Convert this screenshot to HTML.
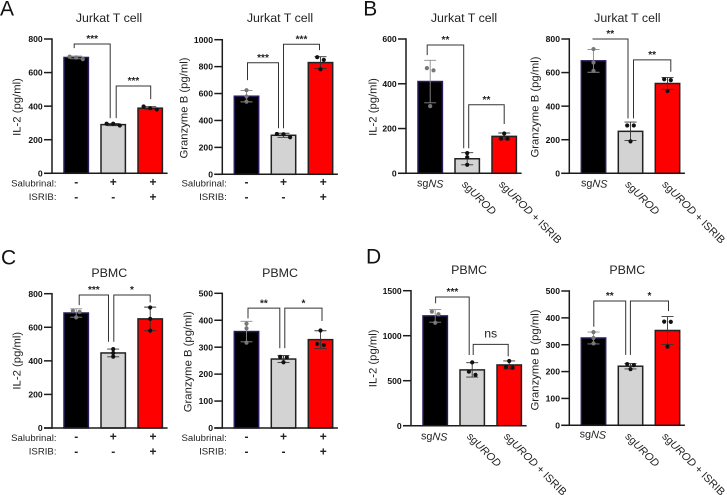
<!DOCTYPE html>
<html lang="en">
<head>
<meta charset="utf-8">
<title>IL-2 and Granzyme B bar charts</title>
<style>
html,body{margin:0;padding:0;background:#fff;}
body{width:727px;height:495px;overflow:hidden;}
svg{display:block;font-family:"Liberation Sans",Arial,sans-serif;}
</style>
</head>
<body>
<svg id="figure" width="727" height="495" viewBox="0 0 727 495" xmlns="http://www.w3.org/2000/svg"></svg>
<script>
// Shared categories
const sgCategories = ["sgNS", "sgUROD", "sgUROD + ISRIB"];
const salubrinalRow = ["-", "+", "+"];
const isribRow = ["-", "-", "+"];

// Panel A, IL-2
const a1Ticks = [0, 200, 400, 600, 800];
const a1Means = [690, 290, 388];
const a1Sd = [8, 6, 9];
const a1Points = [[680, 695, 690], [285, 295, 295], [380, 398, 388]];
const a1Brackets = [[0, 1, 770, 746, 329, "***"], [1, 2, 520, 329, 442, "***"]];
// Panel A, Granzyme B
const a2Ticks = [0, 200, 400, 600, 800, 1000];
const a2Means = [580, 290, 830];
const a2Sd = [42, 15, 44];
const a2Points = [[625, 578, 540], [300, 298, 275], [870, 850, 780]];
const a2Brackets = [[0, 1, 829, 700, 342, "***"], [1, 2, 966, 342, 923, "***"]];
// Panel B, IL-2
const b1Ticks = [0, 200, 400, 600];
const b1Means = [410, 65, 165];
const b1Sd = [95, 27, 15];
const b1Points = [[470, 460, 300], [90, 72, 38], [178, 155, 155]];
const b1Brackets = [[0, 1, 573, 528, 112, "**"], [1, 2, 306, 112, 220, "**"]];
// Panel B, Granzyme B
const b2Ticks = [0, 200, 400, 600, 800];
const b2Means = [670, 250, 535];
const b2Sd = [68, 55, 35];
const b2Points = [[740, 660, 610], [285, 285, 190], [560, 555, 490]];
const b2Brackets = [[0, 1, 800, 800, 327, "**"], [1, 2, 676, 327, 605, "**"]];
// Panel C, IL-2
const c1Ticks = [0, 200, 400, 600, 800];
const c1Means = [685, 447, 650];
const c1Sd = [25, 23, 70];
const c1Points = [[698, 692, 659], [470, 447, 425], [718, 650, 580]];
const c1Brackets = [[0, 1, 792, 732, 514, "***"], [1, 2, 792, 514, 748, "*"]];
// Panel C, Granzyme B
const c2Ticks = [0, 100, 200, 300, 400, 500];
const c2Means = [358, 256, 328];
const c2Sd = [38, 13, 33];
const c2Points = [[387, 370, 317], [264, 262, 244], [362, 312, 308]];
const c2Brackets = [[0, 1, 445, 407, 296, "**"], [1, 2, 445, 296, 397, "*"]];
// Panel D, IL-2
const d1Ticks = [0, 500, 1000, 1500];
const d1Means = [1220, 620, 675];
const d1Sd = [70, 80, 45];
const d1Points = [[1267, 1238, 1144], [704, 600, 565], [719, 652, 645]];
const d1Brackets = [[0, 1, 1430, 1360, 785, "***"], [1, 2, 904, 785, 770, "ns"]];
// Panel D, Granzyme B
const d2Ticks = [0, 100, 200, 300, 400, 500];
const d2Means = [325, 220, 353];
const d2Sd = [22, 10, 52];
const d2Points = [[347, 325, 305], [228, 224, 209], [386, 385, 293]];
const d2Brackets = [[0, 1, 463, 367, 262, "**"], [1, 2, 463, 262, 425, "*"]];

// Layout (pixels), separate from data
const panels = [
  {id:"a1",title:"Jurkat T cell",titleX:109,titleY:22,yTitle:"IL-2 (pg/ml)",yTitleX:17.3,yTitleY:107,axisX:52,y0:173.3,yTop:39,ticks:a1Ticks,means:a1Means,sd:a1Sd,points:a1Points,brackets:a1Brackets,dx:[[-2,-3],[3,0.5]],kind:"rows",rowBase:[186.7,200]},
  {id:"a2",title:"Jurkat T cell",titleX:280,titleY:22,yTitle:"Granzyme B (pg/ml)",yTitleX:184.7,yTitleY:108,axisX:222.3,y0:174.3,yTop:39.7,ticks:a2Ticks,means:a2Means,sd:a2Sd,points:a2Points,brackets:a2Brackets,dx:[[1,-5],[0,-1]],kind:"rows",rowBase:[186.7,200]},
  {id:"b1",title:"Jurkat T cell",titleX:464,titleY:22,yTitle:"IL-2 (pg/ml)",yTitleX:373.3,yTitleY:107,axisX:406,y0:173.3,yTop:39,ticks:b1Ticks,means:b1Means,sd:b1Sd,points:b1Points,brackets:b1Brackets,dx:[[-3,-3.5],[1.5,0]],kind:"sg",sgNsX:430,sgNsY:187,sgY:185},
  {id:"b2",title:"Jurkat T cell",titleX:627.3,titleY:22,yTitle:"Granzyme B (pg/ml)",yTitleX:535.7,yTitleY:107,axisX:569.3,y0:173.3,yTop:39,ticks:b2Ticks,means:b2Means,sd:b2Sd,points:b2Points,brackets:b2Brackets,dx:[[-1,-2.5],[3,3.3]],kind:"sg",sgNsX:594,sgNsY:187,sgY:185},
  {id:"c1",title:"PBMC",titleX:109.3,titleY:277,yTitle:"IL-2 (pg/ml)",yTitleX:17.3,yTitleY:360.7,axisX:52,y0:428,yTop:293.7,ticks:c1Ticks,means:c1Means,sd:c1Sd,points:c1Points,brackets:c1Brackets,dx:[[3,-4.7],[0.6,0]],kind:"rows",rowBase:[441,454.3]},
  {id:"c2",title:"PBMC",titleX:280,titleY:277,yTitle:"Granzyme B (pg/ml)",yTitleX:188.3,yTitleY:361.7,axisX:222.3,y0:428,yTop:293.3,ticks:c2Ticks,means:c2Means,sd:c2Sd,points:c2Points,brackets:c2Brackets,dx:[[1.5,-3.7],[1.3,1.5]],kind:"rows",rowBase:[441,454.3]},
  {id:"d1",title:"PBMC",titleX:469,titleY:274,yTitle:"IL-2 (pg/ml)",yTitleX:373.3,yTitleY:358.3,axisX:411,y0:425.7,yTop:290.7,ticks:d1Ticks,means:d1Means,sd:d1Sd,points:d1Points,brackets:d1Brackets,dx:[[0.4,-3],[1,-1]],kind:"sg",sgNsX:434,sgNsY:440,sgY:437},
  {id:"d2",title:"PBMC",titleX:627.3,titleY:274,yTitle:"Granzyme B (pg/ml)",yTitleX:535.7,yTitleY:360,axisX:569.3,y0:425.3,yTop:291,ticks:d2Ticks,means:d2Means,sd:d2Sd,points:d2Points,brackets:d2Brackets,dx:[[0.3,-4.8],[-0.1,1]],kind:"sg",sgNsX:592.7,sgNsY:438,sgY:437}
];
const panelLetters = [["A",0,15.7],["B",363.3,15.3],["C",1,264.3],["D",366,263.3]];

const NS = "http://www.w3.org/2000/svg";
const svg = document.getElementById("figure");
const INK = "#1c1c1c";
const BAR_W = 24.4, BAR_STEP = 37, BAR_PAD = 12;
const barFills = ["#000000", "#d3d3d3", "#ff0000"];
const barStrokes = ["#2b1a5c", "#222222", "#222222"];
const markColors = ["#777777", "#111111", "#111111"];
const errColors = ["#8a8a8a", "#333333", "#333333"];

function node(parent, tag, attrs, text) {
  const el = document.createElementNS(NS, tag);
  for (const k in attrs) el.setAttribute(k, attrs[k]);
  if (text !== undefined) el.textContent = text;
  parent.appendChild(el);
  return el;
}

function swarmOffsets(values, scale) {
  const order = values.map((v, i) => i).sort((p, q) => values[q] - values[p]);
  const offsets = values.map(() => 0);
  let cluster = [];
  const flush = () => {
    const n = cluster.length;
    if (n === 2) { offsets[cluster[0]] = -3.3; offsets[cluster[1]] = 3.3; }
    if (n >= 3) { cluster.forEach((idx, j) => { offsets[idx] = [-6.6, 0, 6.6][j % 3]; }); }
    cluster = [];
  };
  order.forEach((idx, j) => {
    if (j > 0 && Math.abs(values[order[j - 1]] - values[idx]) * scale >= 3.4) flush();
    cluster.push(idx);
  });
  flush();
  return offsets;
}

panelLetters.forEach(l => {
  const t = node(svg, "text", {x:l[1], y:l[2], "font-size":21, fill:"#111"}, l[0]);
  
  
});

panels.forEach(p => {
  const g = node(svg, "g", {});
  
  

  const maxTick = p.ticks[p.ticks.length - 1];
  const scale = (p.y0 - p.yTop) / maxTick;
  const y = v => p.y0 - v * scale;
  const barLeft = i => p.axisX + BAR_PAD + i * BAR_STEP;
  const barCenter = i => barLeft(i) + BAR_W / 2;

  const title = node(g, "text", {x:p.titleX, y:p.titleY, "font-size":12.4, "text-anchor":"middle", fill:"#222"}, p.title);
  
  

  const yTitle = node(g, "text", {x:p.yTitleX, y:p.yTitleY, "font-size":11.3, "text-anchor":"middle", "dominant-baseline":"central", fill:"#222", transform:"rotate(-90 " + p.yTitleX + " " + p.yTitleY + ")"}, p.yTitle);
  
  

  // bars
  p.means.forEach((m, i) => {
    const bar = node(g, "rect", {x:barLeft(i), y:y(m), width:BAR_W, height:p.y0 - y(m), fill:barFills[i], stroke:barStrokes[i], "stroke-width":1.5});
    
    
  });

  // error bars
  p.means.forEach((m, i) => {
    const cx = barCenter(i);
    const hi = y(m + p.sd[i]), lo = y(m - p.sd[i]);
    const err = node(g, "path", {d:"M" + cx + " " + hi + "V" + lo + "M" + (cx - 6) + " " + hi + "H" + (cx + 6) + "M" + (cx - 6) + " " + lo + "H" + (cx + 6), fill:"none", stroke:errColors[i], "stroke-width":0.9});
    
    
  });

  // points
  p.points.forEach((vals, i) => {
    const offs = swarmOffsets(vals, scale);
    vals.forEach((v, j) => {
      const dot = node(g, "circle", {cx:barCenter(i) + offs[j], cy:y(v), r:2.1, fill:markColors[i]});
      
      
    });
  });

  // axes
  const yAxis = node(g, "line", {x1:p.axisX, x2:p.axisX, y1:p.yTop - 0.7, y2:p.y0 + 0.7, stroke:INK, "stroke-width":1.5});
  
  
  const xAxis = node(g, "line", {x1:p.axisX - 8, x2:p.axisX + 115.6, y1:p.y0, y2:p.y0, stroke:INK, "stroke-width":1.5});
  
  

  p.ticks.forEach(t => {
    const mark = node(g, "line", {x1:p.axisX - 8, x2:p.axisX, y1:y(t), y2:y(t), stroke:INK, "stroke-width":1.5});
    
    
    const lab = node(g, "text", {x:p.axisX - 9.3, y:y(t) + 3.1, "font-size":8.6, "font-weight":"bold", "text-anchor":"end", fill:"#111"}, String(t));
    
    
  });

  // significance brackets
  p.brackets.forEach((b, k) => {
    const x0 = barCenter(b[0]) + p.dx[k][0];
    const x1 = barCenter(b[1]) + p.dx[k][1];
    const top = y(b[2]);
    const br = node(g, "path", {d:"M" + x0 + " " + y(b[3]) + "V" + top + "H" + x1 + "V" + y(b[4]), fill:"none", stroke:"#333", "stroke-width":1});
    
    
    const isNs = b[5] === "ns";
    const sig = node(g, "text", {x:(x0 + x1) / 2, y:isNs ? top - 7 : top - 1.8, "font-size":isNs ? 12.3 : 10, "font-weight":isNs ? "normal" : "bold", "text-anchor":"middle", fill:"#222"}, b[5]);
    
    
  });

  // x labels
  if (p.kind === "rows") {
    const names = ["Salubrinal:", "ISRIB:"];
    [salubrinalRow, isribRow].forEach((row, r) => {
      const rowLab = node(g, "text", {x:p.axisX + 4.5, y:p.rowBase[r], "font-size":9.6, "text-anchor":"end", fill:"#222"}, names[r]);
      
      
      row.forEach((s, i) => {
        const cx = barCenter(i) + (i === 2 ? 2.8 : 0);
        const sign = node(g, "text", {x:cx, y:p.rowBase[r] + (r === 1 ? 1.2 : -0.6), "font-size":12, "font-weight":"bold", "text-anchor":"middle", fill:"#222"}, s);
        
        
      });
    });
  } else {
    sgCategories.forEach((c, i) => {
      const parts = c.match(/^sg(\w+)(.*)$/);
      let attrs;
      if (i === 0) {
        attrs = {x:p.sgNsX, y:p.sgNsY, "text-anchor":"middle", transform:"rotate(3 " + p.sgNsX + " " + p.sgNsY + ")"};
      } else {
        const sx = barCenter(i) - 6;
        attrs = {x:sx, y:p.sgY, "text-anchor":"start", transform:"rotate(45 " + sx + " " + p.sgY + ")"};
      }
      attrs["font-size"] = 10.8;
      attrs.fill = "#222";
      const lab = node(g, "text", attrs);
      
      
      node(lab, "tspan", {}, "sg");
      node(lab, "tspan", {"font-style":"italic"}, parts[1]);
      if (parts[2]) node(lab, "tspan", {}, "\u00A0+\u00A0ISRIB");
    });
  }
});
</script>
</body>
</html>
